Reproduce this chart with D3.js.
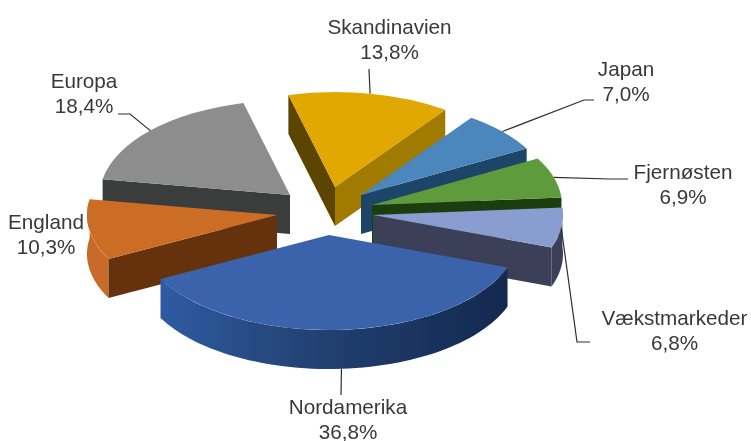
<!DOCTYPE html>
<html><head><meta charset="utf-8">
<script src="https://cdn.jsdelivr.net/npm/d3@7"></script>
<style>
html,body{margin:0;padding:0;background:#fff}
svg{display:block}
text{font-family:"Liberation Sans",Arial,sans-serif;fill:#383838}
</style></head><body>
<svg id="c" width="751" height="441"></svg>
<script>
const regions = ["Nordamerika","England","Europa","Skandinavien","Japan","Fjernøsten","Vækstmarkeder"];
const shares = [36.8,10.3,18.4,13.8,7.0,6.9,6.8];
const shareLabels = ["36,8%","10,3%","18,4%","13,8%","7,0%","6,9%","6,8%"];

// layout: exploded slice apex positions
const apexX = [329,277,290,335,361,372,373];
const apexY = [235,215,195,187,195,205,215];
const labelX = [348,46,84,389.5,626,683,674.5];
const labelY = [414,229,88,34,76,179,325];
const leaderEnds = [[[341,395]],null,[[130,114],[118,114]],[[369,69]],[[584,100],[594,100]],[[610,179],[628,179]],[[577,342],[590,342]]];
const drawOrder = [2,1,3,4,5,6,0];

const topColors  = ["#3b64ac","#cc6d27","#8d8d8d","#e0a800","#4c86bd","#5f9a3c","#8a9dd0"];
const startWall  = ["none","#66320e","#3a3c3e","#5c4500","none","none","none"];
const endWall    = ["none","none","none","#a17a00","#1f4468","#1f3d0a","#3b4158"];
const rimColors  = ["url(#rimN)","url(#rimE)","none","none","none","none","#3b4158"];

const rx = 190, ry = 95, depth = 39;
const startDeg = 110; // pie start, clockwise from 12 o'clock

const svg = d3.select("#c");
const defs = svg.append("defs");
function grad(id, stops){
  const g = defs.append("linearGradient").attr("id",id).attr("x1",0).attr("x2",1).attr("y1",0).attr("y2",0);
  stops.forEach(s=>g.append("stop").attr("offset",s[0]).attr("stop-color",s[1]));
}
grad("rimN",[[0,"#2f5ba3"],[0.3,"#27497f"],[0.55,"#1f3c6b"],[1,"#14294f"]]);
grad("rimE",[[0,"#c66a28"],[1,"#c86c2a"]]);
defs.append("filter").attr("id","soft").append("feGaussianBlur").attr("stdDeviation",0.45);

const pie = d3.pie().sort(null).value(d=>d)
  .startAngle(startDeg*Math.PI/180).endAngle((startDeg+360)*Math.PI/180);
const arcs = pie(shares);
const arc = d3.arc().innerRadius(0).outerRadius(rx);
const px = a => rx*Math.sin(a);
const py = a => -ry*Math.cos(a);

const line = d3.line();
const rimArea = d3.area().x(a=>px(a)).y0(a=>py(a)).y1(a=>py(a)+depth);

const root = svg.append("g").attr("filter","url(#soft)");

function wall(g, a, fill){
  if(fill==="none") return;
  g.append("path").attr("fill",fill).attr("d", line([
    [0,0],[px(a),py(a)],[px(a),py(a)+depth],[0,depth]
  ])+"Z");
}

drawOrder.forEach(i=>{
  const d = arcs[i];
  const g = root.append("g").attr("transform",`translate(${apexX[i]},${apexY[i]})`);
  if(rimColors[i]!=="none"){
    const steps = d3.range(0,61).map(k=>d.startAngle+(d.endAngle-d.startAngle)*k/60);
    g.append("path").attr("fill",rimColors[i]).attr("d",rimArea(steps));
  }
  wall(g,d.startAngle,startWall[i]);
  wall(g,d.endAngle,endWall[i]);
  g.append("path").attr("transform",`scale(1,${ry/rx})`).attr("fill",topColors[i]).attr("d",arc(d));
});

// leader lines
arcs.forEach((d,i)=>{
  if(!leaderEnds[i]) return;
  const m=(d.startAngle+d.endAngle)/2;
  const dy = i===0 ? depth : 0;
  const pts=[[apexX[i]+px(m),apexY[i]+py(m)+dy],...leaderEnds[i]];
  svg.append("path").attr("fill","none").attr("stroke","#2e2e2e").attr("stroke-width",1.2).attr("d",line(pts));
});

// labels
const lineGap = 25;
regions.forEach((r,i)=>{
  const t=svg.append("text").attr("text-anchor","middle").attr("font-size",20.7);
  t.append("tspan").attr("x",labelX[i]).attr("y",labelY[i]).text(r);
  t.append("tspan").attr("x",labelX[i]).attr("y",labelY[i]+lineGap).text(shareLabels[i]);
});
</script>
</body></html>
